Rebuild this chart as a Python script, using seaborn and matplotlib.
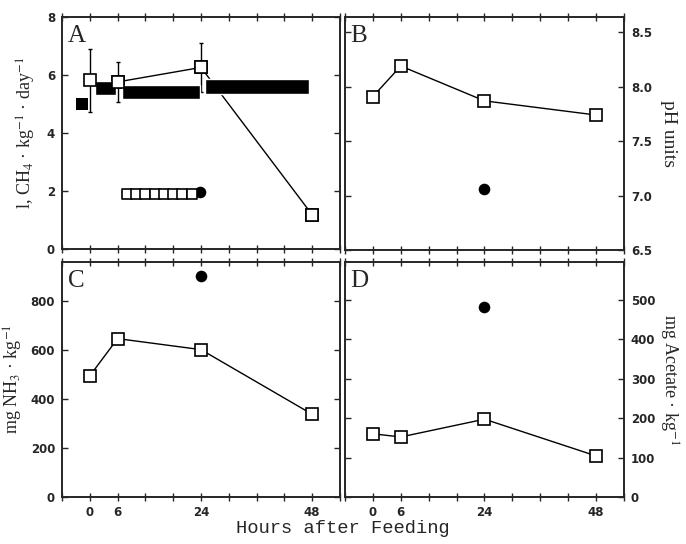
import numpy as np
import pandas as pd
import matplotlib
matplotlib.use('Agg')
import matplotlib.pyplot as plt
import seaborn as sns

# sampling times (hours after feeding)
hours = [0, 6, 24, 48]

# panel A: methane production (open squares, with SD)
ch4 = [5.81, 5.76, 6.26, 1.18]
ch4_err = [1.10, 0.69, 0.83, 0.0]
# solid runs of filled squares in panel A
run_start = [1.1, 6.9, 24.9]
run_end = [5.6, 23.7, 47.3]
run_level = [5.55, 5.42, 5.60]
lone_hour = [-1.7]
lone_val = [5.0]
# row of open squares and the closing filled circle
row_hours = [8, 10, 12, 14, 16, 18, 20, 22]
row_vals = [1.9, 1.9, 1.9, 1.9, 1.9, 1.9, 1.9, 1.9]
row_dot = [1.95]

# panel B: pH
ph = [7.91, 8.19, 7.87, 7.74]
ph_dot = [7.06]

# panel C: ammonia
nh3 = [495, 647, 602, 338]
nh3_dot = [903]

# panel D: acetate
acetate = [160, 152, 197, 104]
acetate_dot = [481]

sns.set_style('ticks')
plt.rcParams['font.family'] = ['Liberation Serif', 'DejaVu Serif']
plt.rcParams['mathtext.fontset'] = 'stix'
plt.rcParams['axes.linewidth'] = 1.4

fig = plt.figure(figsize=(6.86, 5.44), dpi=100)
axA = fig.add_axes([0.0904, 0.5423, 0.4052, 0.4265])
axB = fig.add_axes([0.5029, 0.5404, 0.4067, 0.4283])
axC = fig.add_axes([0.0904, 0.0864, 0.4052, 0.4320])
axD = fig.add_axes([0.5029, 0.0864, 0.4067, 0.4320])

sq = dict(marker='s', markersize=8, markerfacecolor='white', markeredgecolor='black',
          markeredgewidth=1.2, color='black', linewidth=1.0)

# A
axA.barh(run_level, width=np.array(run_end) - np.array(run_start), left=run_start,
         height=0.5, color='black', zorder=3)
axA.errorbar(hours, ch4, yerr=ch4_err, fmt='none', ecolor='black', elinewidth=1,
             capsize=1.5, capthick=1, zorder=2)
sns.lineplot(x=hours[1:], y=ch4[1:], ax=axA, zorder=2, **sq)
axA.plot(hours, ch4, linestyle='none', marker='s', markersize=8, markerfacecolor='white',
         markeredgecolor='black', markeredgewidth=1.2, zorder=5)
sns.scatterplot(x=lone_hour, y=lone_val, ax=axA, marker='s', s=80, color='black',
                linewidth=0, zorder=4)
sns.scatterplot(x=[23.7], y=row_dot, ax=axA, marker='o', s=70, color='black',
                linewidth=0, zorder=4)
sns.scatterplot(x=row_hours, y=row_vals, ax=axA, marker='s', s=58, facecolor='white',
                edgecolor='black', linewidth=1.2, zorder=5)
axA.set_ylim(0, 8)
axA.set_yticks([0, 2, 4, 6, 8])
axA.set_ylabel('l, CH$_4$ · kg$^{-1}$ · day$^{-1}$', fontsize=13, labelpad=6)

# B
sns.lineplot(x=hours, y=ph, ax=axB, **sq)
sns.scatterplot(x=[24], y=ph_dot, ax=axB, marker='o', s=70, color='black', linewidth=0)
axB.set_ylim(6.5, 8.64)
axB.set_yticks([6.5, 7.0, 7.5, 8.0, 8.5])
axB.yaxis.set_major_formatter(matplotlib.ticker.FormatStrFormatter('%.1f'))
axB.yaxis.set_label_position('right')
axB.set_ylabel('pH units', fontsize=14, rotation=270, labelpad=18)

# C
sns.lineplot(x=hours, y=nh3, ax=axC, **sq)
sns.scatterplot(x=[24], y=nh3_dot, ax=axC, marker='o', s=70, color='black', linewidth=0)
axC.set_ylim(0, 960)
axC.set_yticks([0, 200, 400, 600, 800])
axC.set_ylabel('mg NH$_3$ · kg$^{-1}$', fontsize=13, labelpad=4)

# D
sns.lineplot(x=hours, y=acetate, ax=axD, **sq)
sns.scatterplot(x=[24], y=acetate_dot, ax=axD, marker='o', s=70, color='black', linewidth=0)
axD.set_ylim(0, 595)
axD.set_yticks([0, 100, 200, 300, 400, 500])
axD.yaxis.set_label_position('right')
axD.set_ylabel('mg Acetate · kg$^{-1}$', fontsize=13, rotation=270, labelpad=18)

axA.tick_params(labelbottom=False)
axB.tick_params(labelbottom=False, labelleft=False, labelright=True)
axD.tick_params(labelleft=False, labelright=True)

for ax, letter in zip([axA, axB, axC, axD], ['A', 'B', 'C', 'D']):
    ax.set_xlim(-6, 54)
    ax.set_xticks([0, 6, 24, 48])
    ax.set_xticks(np.arange(-6, 55, 6), minor=True)
    ax.tick_params(axis='x', which='both', direction='inout', length=6, width=1,
                   top=True, bottom=True)
    ax.tick_params(axis='y', which='both', direction='in', length=4, width=1,
                   left=True, right=True, pad=5)
    for t in ax.xaxis.get_major_ticks() + ax.yaxis.get_major_ticks():
        for lab in (t.label1, t.label2):
            lab.set_family('DejaVu Sans')
            lab.set_fontweight('bold')
            lab.set_fontsize(8.5)
    ax.text(0.02, 0.965, letter, transform=ax.transAxes, ha='left', va='top', fontsize=18)
    for s in ax.spines.values():
        s.set_visible(True)

fig.text(0.5, 0.028, 'Hours after Feeding', ha='center', va='center',
         family='Liberation Mono', fontsize=13.5)

fig.savefig('out.png', dpi=100)
